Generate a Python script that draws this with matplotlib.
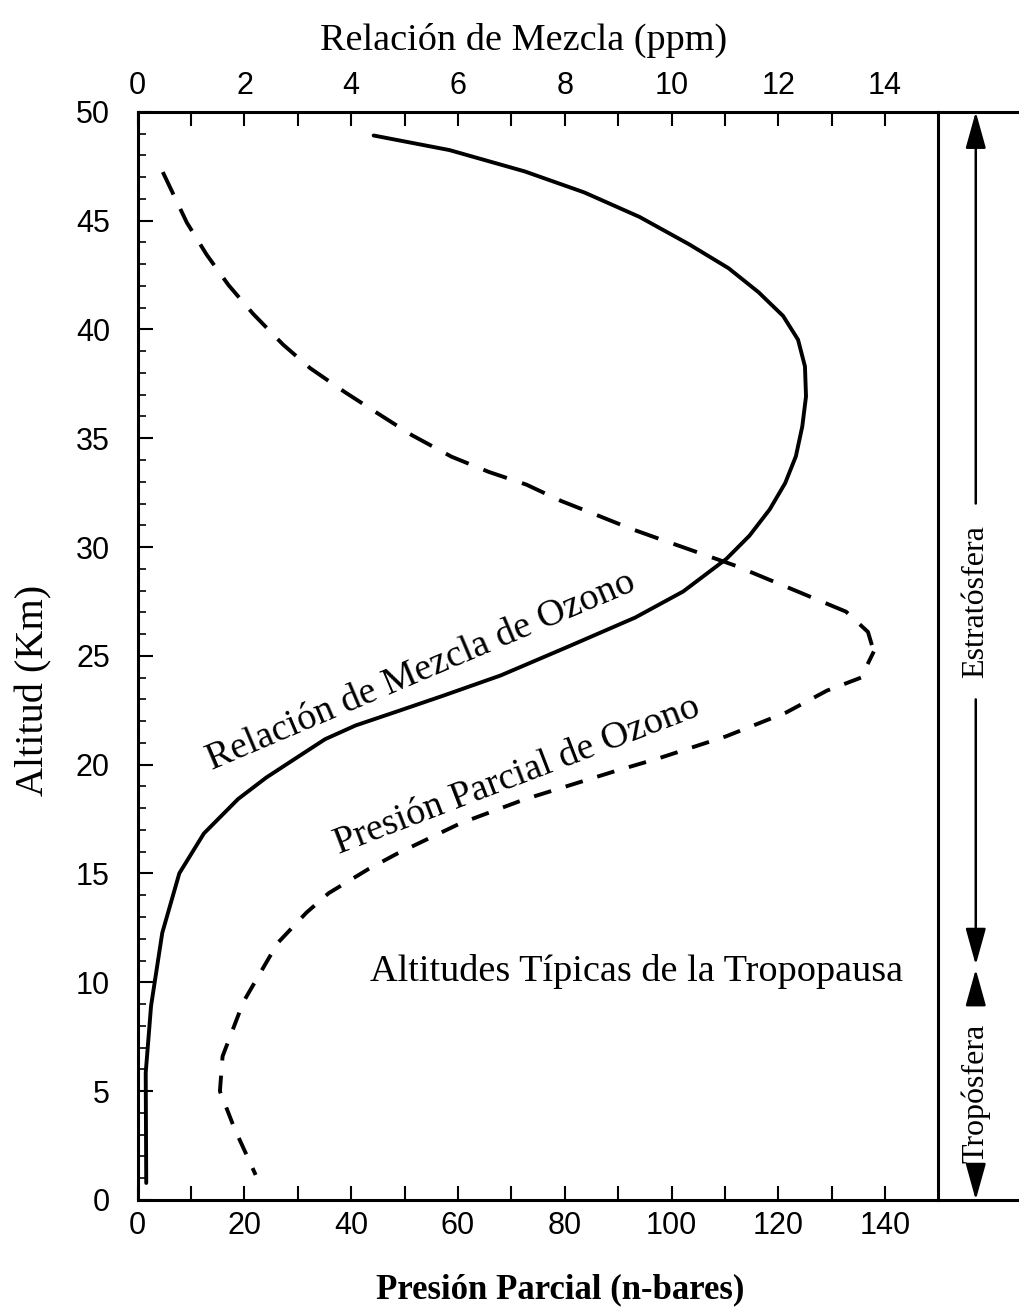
import matplotlib
matplotlib.use("Agg")
import matplotlib.pyplot as plt
from matplotlib import font_manager

# relacion de mezcla de ozono (ppm, eje superior)
alt_mezcla = [48.91, 48.24, 47.26, 46.29, 45.17, 43.91, 42.81, 41.71, 40.62, 39.53, 38.30, 36.92,
              35.54, 34.17, 32.94, 31.73, 30.52, 29.46, 27.96, 26.76, 25.43, 24.10, 23.15, 22.43,
              21.80, 21.17, 20.26, 19.41, 18.42, 16.84, 15.01, 12.27, 8.91, 5.84, 0.78]
mezcla_ppm = [4.42, 5.84, 7.25, 8.37, 9.40, 10.33, 11.07, 11.63, 12.09, 12.37, 12.50, 12.52,
              12.45, 12.33, 12.13, 11.84, 11.46, 11.03, 10.22, 9.32, 8.07, 6.80, 5.70, 4.84,
              4.08, 3.51, 2.94, 2.41, 1.88, 1.24, 0.78, 0.46, 0.25, 0.15, 0.16]

# presion parcial de ozono (n-bares, eje inferior): tramo alto y tramo bajo
alt_pres_alta = [47.23, 44.91, 43.44, 42.04, 40.72, 39.31, 38.22, 37.12, 36.20, 35.15, 34.15,
                 33.45, 32.87, 32.12, 31.48, 30.84, 30.35, 29.79, 29.14, 28.0, 27.03, 26.1, 25.2]
pres_alta = [4.7, 9.2, 12.9, 17.0, 21.6, 27.2, 32.3, 38.8, 44.6, 51.3, 58.8,
             65.8, 72.8, 79.3, 85.9, 92.4, 98.0, 104.5, 112.0, 123.2, 132.7, 136.8, 137.9]
alt_pres_baja = [25.2, 24.0, 23.4, 22.4, 21.3, 20.3, 19.7, 18.4, 17.3, 15.9, 15.2, 14.1, 13.2,
                 11.8, 9.1, 6.6, 5.0, 3.3, 1.15]
pres_baja = [137.9, 135.5, 129.1, 121.5, 110.2, 97.7, 89.4, 72.4, 60.4, 48.5, 43.2, 35.8, 31.6,
             26.2, 19.8, 15.9, 15.4, 18.1, 22.1]

xticks_bot = list(range(0, 150, 10))
xlabels_bot = [str(v) if v % 20 == 0 else "" for v in xticks_bot]
xticks_top = list(range(0, 15))
xlabels_top = [str(v) if v % 2 == 0 else "" for v in xticks_top]
yticks = list(range(0, 51, 5))

tropopausa = 10.8
serif = "Liberation Serif"
sans = "Liberation Sans"
nombres = {f.name for f in font_manager.fontManager.ttflist}
narrow = "Liberation Sans Narrow" if "Liberation Sans Narrow" in nombres else sans

fig = plt.figure(figsize=(10.2, 13.15), dpi=100)
ax = fig.add_axes([0.135, 0.0875, 0.785, 0.8275])
ax.set_xlim(0, 150)
ax.set_ylim(0, 50)

ax2 = ax.twiny()
ax2.set_xlim(0, 15)

lw = 2.8
ax2.plot(mezcla_ppm, alt_mezcla, color="k", lw=lw, solid_capstyle="round", solid_joinstyle="round")
ax.plot(pres_alta, alt_pres_alta, color="k", lw=lw, linestyle=(0, (6.4, 4.1)))
ax.plot(pres_baja, alt_pres_baja, color="k", lw=lw, linestyle=(1, (4.6, 3.9)))

# ejes
for sp in ax.spines.values():
    sp.set_linewidth(2.2)
for sp in ax2.spines.values():
    sp.set_visible(False)

ax.set_xticks(xticks_bot)
ax.set_xticklabels(xlabels_bot, fontfamily=narrow, fontsize=22)
ax.tick_params(axis="x", direction="in", length=10, width=1.5, top=False, pad=8)
ax.set_yticks(yticks)
ax.set_yticklabels([str(v) for v in yticks], fontfamily=sans, fontsize=22)
ax.set_yticks(range(0, 51), minor=True)
ax.tick_params(axis="y", which="major", direction="in", length=11, width=1.5, right=False, pad=20)
ax.tick_params(axis="y", which="minor", direction="in", length=6, width=1.2, right=False)

ax2.set_xticks(xticks_top)
ax2.set_xticklabels(xlabels_top, fontfamily=narrow, fontsize=22)
ax2.tick_params(axis="x", direction="in", length=10, width=1.5, pad=8)

# lineas que se prolongan a la derecha
ax.plot([150, 166], [0, 0], color="k", lw=2.2, clip_on=False)
ax.plot([150, 166], [50, 50], color="k", lw=2.2, clip_on=False)

# flechas de estratosfera / troposfera
xa = 157
ap = dict(arrowstyle="-|>,head_length=0.9,head_width=0.25", lw=1.8, color="k",
          mutation_scale=25, shrinkA=0, shrinkB=0)
ax.annotate("", xy=(xa, 50), xytext=(xa, 32.0), arrowprops=ap, annotation_clip=False)
ax.annotate("", xy=(xa, tropopausa), xytext=(xa, 23.0), arrowprops=ap, annotation_clip=False)
ax.annotate("", xy=(xa, tropopausa - 0.2), xytext=(xa, 9.4), arrowprops=ap, annotation_clip=False)
ax.annotate("", xy=(xa, 0.0), xytext=(xa, 0.8), arrowprops=ap, annotation_clip=False)
ax.text(xa, 27.5, "Estratósfera", rotation=90, ha="center", va="center",
        fontsize=23, fontfamily=serif, clip_on=False)
ax.text(xa, 4.9, "Tropósfera", rotation=90, ha="center", va="center",
        fontsize=23, fontfamily=serif, clip_on=False)

# rotulos de las curvas
ax.text(53.0, 24.3, "Relación de Mezcla de Ozono", rotation=23, ha="center", va="center",
        fontsize=27.5, fontfamily=serif, rotation_mode="anchor")
ax.text(71.0, 19.5, "Presión Parcial de Ozono", rotation=21, ha="center", va="center",
        fontsize=27.5, fontfamily=serif, rotation_mode="anchor")
ax.text(93.4, 10.5, "Altitudes Típicas de la Tropopausa", ha="center", va="center",
        fontsize=27.5, fontfamily=serif)

# titulos de ejes
fig.text(524 / 1020, 1 - 40 / 1315, "Relación de Mezcla (ppm)", ha="center", va="center",
         fontsize=27.5, fontfamily=serif)
fig.text(560 / 1020, 1 - 1290 / 1315, "Presión Parcial (n-bares)", ha="center", va="center",
         fontsize=25, fontfamily=serif, fontweight="bold")
fig.text(34 / 1020, 1 - 690 / 1315, "Altitud (Km)", ha="center", va="center", rotation=90,
         fontsize=29, fontfamily=serif)

fig.savefig("out.png", dpi=100)
